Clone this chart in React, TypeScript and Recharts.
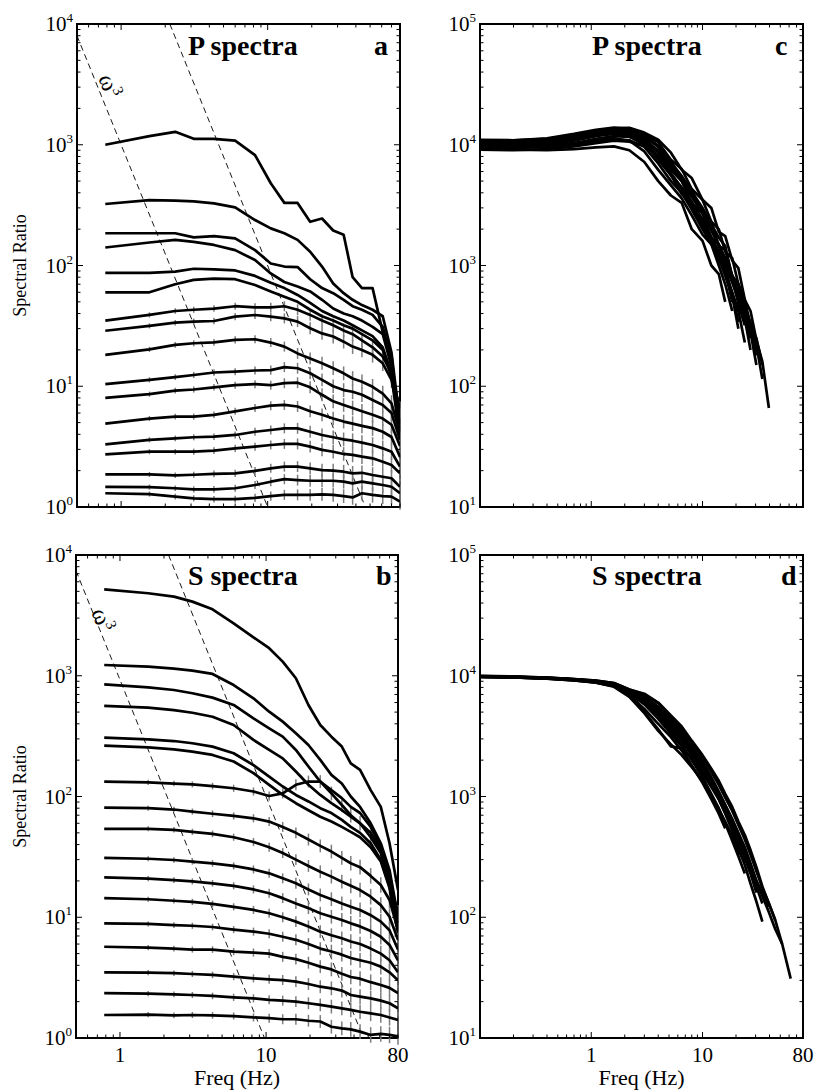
import React from 'react';
import { LineChart, Line, XAxis, YAxis, ErrorBar, ReferenceLine, ReferenceArea } from 'recharts';

const FONT = "'Liberation Serif', 'Times New Roman', Times, serif";

// sample frequencies (Hz) of the spectral ratios in panels a and b
const freqAB = [0.78, 1.56, 2.34, 3.13, 4.3, 6.0, 8.2, 10.5, 13, 16, 19.5, 23.5, 28, 33, 38, 44, 52, 61, 70, 80];

// panel a: P spectral ratios, top curve first
const pRatios = [
  [1000, 1180, 1280, 1120, 1120, 1080, 820, 480, 330, 330, 230, 245, 195, 180, 80, 65, 65, 28, 18, 4],
  [323, 348, 344, 340, 327, 303, 238, 203, 185, 163, 130, 98, 71, 59, 52, 47, 43, 38, 19, 5],
  [185, 185, 185, 171, 175, 168, 134, 104, 98, 97, 77, 65, 59, 52, 46, 43, 39, 31, 16.5, 4.5],
  [141, 155, 163, 157, 148, 134, 111, 86, 73, 67, 61, 52, 44, 40, 38, 35, 31, 27, 14.5, 4.2],
  [87, 87, 89, 94, 93, 91, 82, 72, 65, 57, 49, 42, 38, 35, 32, 29, 26, 21, 12.8, 4],
  [60, 60, 70, 76, 78, 77, 69, 61, 55, 50, 43, 38, 35, 32, 30, 27, 24, 20, 12, 3.8],
  [35, 39, 42, 43, 44, 46, 45, 45, 46, 43, 39, 35, 32, 29, 27, 24, 21, 17.6, 12.8, 6.4],
  [28.8, 31.6, 33.6, 34.3, 34.7, 37.7, 38.9, 37.7, 36.5, 34.3, 30.2, 27.4, 25.8, 23.4, 21.3, 20, 18.2, 15.5, 11.3, 5.6],
  [18.2, 20.2, 22, 22.7, 23.1, 24.2, 24.5, 23, 21.3, 18.7, 17, 15.5, 14.1, 12.8, 11.6, 10.9, 9.9, 8.7, 7.2, 4.1],
  [10.4, 11.3, 11.9, 12.4, 13, 13.2, 13.5, 13.6, 14.4, 14.1, 12.8, 11.3, 10, 9.3, 9, 8.5, 7.7, 7, 6, 3.6],
  [8, 8.6, 9.2, 9.4, 9.8, 10.2, 10.4, 10.2, 10.6, 10.7, 9.8, 8.5, 7.5, 7, 6.6, 6.2, 5.8, 5.4, 4.8, 3.2],
  [4.9, 5.4, 5.6, 5.6, 5.8, 6.2, 6.6, 6.9, 7, 6.8, 6.2, 5.8, 5.4, 5.1, 4.9, 4.7, 4.5, 4.2, 3.8, 2.6],
  [3.3, 3.6, 3.7, 3.78, 3.82, 3.95, 4.2, 4.34, 4.48, 4.48, 4.2, 3.95, 3.78, 3.63, 3.54, 3.41, 3.26, 3.06, 2.87, 2.16],
  [2.73, 2.87, 2.87, 2.87, 2.93, 3.06, 3.16, 3.26, 3.33, 3.33, 3.16, 2.97, 2.87, 2.75, 2.7, 2.61, 2.53, 2.37, 2.23, 1.9],
  [1.86, 1.86, 1.83, 1.85, 1.88, 1.9, 1.99, 2.09, 2.16, 2.16, 2.09, 2.02, 2, 1.96, 1.9, 1.92, 1.84, 1.78, 1.73, 1.47],
  [1.47, 1.46, 1.43, 1.4, 1.4, 1.43, 1.52, 1.62, 1.7, 1.67, 1.65, 1.65, 1.65, 1.62, 1.57, 1.62, 1.57, 1.52, 1.47, 1.3],
  [1.3, 1.28, 1.22, 1.18, 1.16, 1.16, 1.19, 1.23, 1.26, 1.26, 1.26, 1.27, 1.26, 1.23, 1.2, 1.3, 1.26, 1.23, 1.22, 1.11],
];

// panel b: S spectral ratios, top curve first
const sRatios = [
  [5200, 4820, 4520, 4110, 3550, 2720, 2080, 1690, 1310, 953, 573, 391, 313, 259, 188, 166, 113, 82, 41, 16.8],
  [1228, 1189, 1145, 1102, 1035, 838, 650, 504, 417, 334, 267, 201, 151, 128, 100, 82, 60, 41, 24.6, 10],
  [849, 802, 762, 716, 659, 573, 444, 367, 313, 243, 177, 133, 113, 97, 82, 73, 56, 38, 23, 9.5],
  [562, 545, 520, 494, 458, 391, 294, 243, 207, 161, 125, 103, 88, 77, 68, 60, 50, 36, 20, 8.4],
  [307, 297, 288, 276, 259, 228, 182, 146, 121, 103, 91, 80, 73, 64, 56, 50, 41, 30, 18, 7.9],
  [264, 255, 246, 235, 221, 195, 156, 125, 103, 88, 77, 68, 62, 56, 51, 46, 38, 29, 17.4, 7.4],
  [133, 131, 128, 126, 122, 117, 110, 101, 106, 125, 133, 133, 106, 85, 70, 60, 46, 34, 20, 10.8],
  [81, 80, 78, 75, 72, 69, 66, 62, 56, 50, 44, 39, 35, 31, 28, 26, 22, 18.5, 13.9, 7.8],
  [54, 54, 53, 51, 49, 46, 42, 38, 34, 30, 26.6, 23.8, 21.7, 19.7, 18.2, 16.8, 14.8, 12.6, 10.1, 6.5],
  [31, 30.5, 29.8, 28.9, 27.9, 26.6, 24.9, 23.1, 21, 19.1, 17, 15.3, 14.1, 13, 12.2, 11.5, 10.4, 9.2, 7.8, 5.4],
  [21.4, 20.9, 20.3, 19.8, 19.1, 18.2, 17, 15.8, 14.4, 13, 11.9, 10.8, 10.1, 9.5, 8.9, 8.4, 7.7, 6.9, 5.9, 4.4],
  [14.4, 14.1, 13.7, 13.4, 12.9, 12.2, 11.5, 10.8, 10, 9.2, 8.4, 7.6, 7.1, 6.7, 6.3, 6, 5.5, 5, 4.4, 3.5],
  [8.9, 8.8, 8.6, 8.5, 8.3, 7.9, 7.6, 7.3, 6.9, 6.5, 6, 5.5, 5.2, 4.9, 4.6, 4.4, 4.2, 3.9, 3.5, 3],
  [5.7, 5.6, 5.5, 5.4, 5.4, 5.2, 5.1, 5, 4.7, 4.5, 4.2, 3.9, 3.7, 3.4, 3.2, 3.1, 2.9, 2.75, 2.6, 2.35],
  [3.5, 3.48, 3.44, 3.39, 3.33, 3.22, 3.12, 3.06, 3.02, 2.93, 2.8, 2.66, 2.58, 2.47, 2.27, 2.2, 2.13, 2.04, 1.94, 1.76],
  [2.35, 2.33, 2.3, 2.27, 2.23, 2.17, 2.13, 2.07, 2.04, 2, 1.94, 1.88, 1.82, 1.76, 1.71, 1.65, 1.6, 1.55, 1.48, 1.41],
  [1.55, 1.56, 1.54, 1.55, 1.54, 1.52, 1.48, 1.46, 1.43, 1.43, 1.39, 1.37, 1.24, 1.2, 1.18, 1.13, 1.06, 1.08, 1.06, 1.03],
];

// multiplicative uncertainty of the ratios at each frequency (grey bars)
const errAB = [1, 1.05, 1.055, 1.06, 1.065, 1.07, 1.08, 1.09, 1.1, 1.11, 1.12, 1.13, 1.14, 1.14, 1.15, 1.15, 1.16, 1.16, 1.17, 1.17];
// first curve (from the top) that carries error bars
const barsFromA = 6;
const barsFromB = 6;

// omega^-3 guide lines, end points
const guidesA = [
  [{ x: 0.5, y: 8000 }, { x: 10, y: 1 }],
  [{ x: 2.15, y: 10000 }, { x: 46.4, y: 1 }],
];
const guidesB = [
  [{ x: 0.5, y: 7400 }, { x: 9.75, y: 1 }],
  [{ x: 2.15, y: 10000 }, { x: 46.4, y: 1 }],
];

// sample frequencies (Hz) of the corrected spectra in panels c and d
const freqCD = [0.1, 0.2, 0.4, 0.7, 1.1, 1.6, 2.2, 3.0, 4.0, 5.2, 6.5, 8.0, 10, 12, 14, 16, 18.5, 21, 24, 27, 30.5, 34.5, 39.5, 45, 52, 62];

// panel c: corrected P spectra (each stops at its last usable frequency)
const pCorrected = [
  [9300, 9100, 9000, 9200, 9500, 9700, 9000, 7200, 5000, 3800, 3300, 2000, 1600, 1000, 850, 500],
  [9900, 9800, 9900, 10300, 10900, 11300, 10800, 8800, 6200, 4600, 3600, 2600, 1800, 1500, 1000, 700, 420],
  [10700, 10600, 10900, 11600, 12400, 12800, 12200, 10500, 7500, 5600, 3900, 3400, 2100, 1700, 1150, 950, 580, 340],
  [9600, 9500, 9600, 10000, 10700, 11100, 10900, 9600, 7000, 5000, 4000, 2900, 2000, 1500, 1150, 850, 600, 420, 230],
  [10300, 10200, 10600, 11500, 12500, 13200, 13000, 11500, 8600, 6200, 5000, 3300, 2700, 1700, 1500, 950, 800, 480, 320],
  [9100, 9000, 9200, 9700, 10300, 10800, 10600, 9800, 8000, 5800, 4400, 3300, 2400, 1700, 1300, 1000, 720, 520, 380, 250],
  [10900, 10900, 11300, 12300, 13300, 13900, 13700, 12000, 9800, 7300, 5100, 4200, 2700, 2300, 1450, 1350, 820, 700, 410, 340, 180],
  [9800, 9700, 10000, 10800, 11800, 12500, 12500, 11700, 9600, 7200, 5500, 4100, 3000, 2200, 1700, 1450, 800, 700, 480, 330, 220, 115],
  [10200, 10100, 10500, 11300, 12200, 13000, 13200, 12200, 10500, 7500, 6300, 4300, 3500, 2300, 2000, 1300, 1150, 700, 520, 310, 250, 150],
  [10500, 10500, 10900, 11800, 12800, 13600, 13800, 12600, 11000, 8600, 6200, 5300, 3500, 3000, 1900, 1750, 1100, 950, 520, 420, 240, 160, 66],
  [10000, 9900, 10200, 11000, 11900, 12400, 12000, 10800, 8800, 6500, 5000, 3700, 2700, 1950, 1450, 1100, 780, 560, 360, 200],
  [10400, 10300, 10600, 11300, 12000, 12300, 11700, 10000, 7800, 5600, 4300, 3100, 2200, 1600, 1150, 820, 560, 300],
  [9500, 9400, 9600, 10300, 11200, 11800, 11600, 10900, 9000, 6800, 5200, 3900, 2800, 2000, 1500, 1150, 830, 600, 420, 280, 150],
  [11000, 10900, 11200, 12000, 12900, 13300, 12700, 11000, 8000, 5700, 4400, 3300, 2400, 1700, 1250, 900, 500],
];

// panel d: corrected S spectra
const sCorrected = [
  [9800, 9700, 9500, 9200, 8800, 8200, 6900, 5300, 4000, 3100, 2400, 1800, 1300, 950, 720, 545],
  [9900, 9750, 9550, 9300, 9000, 8500, 7300, 6000, 4700, 3500, 2700, 2000, 1450, 1050, 800, 600, 430, 320, 230],
  [9850, 9750, 9550, 9300, 9000, 8500, 7400, 6200, 4900, 3800, 3000, 2300, 1700, 1250, 950, 720, 520, 380, 270, 190, 135, 92],
  [9900, 9800, 9600, 9350, 9050, 8600, 7600, 6700, 5500, 4300, 3400, 2600, 1950, 1450, 1100, 850, 640, 480, 360, 270, 200, 160, 122],
  [10000, 9850, 9650, 9400, 9100, 8700, 7700, 7100, 6000, 4700, 3800, 2900, 2200, 1700, 1350, 1050, 820, 620, 480, 360, 260, 180, 130, 95, 60, 31],
  [9900, 9800, 9600, 9350, 9050, 8600, 7550, 6800, 5500, 4200, 3300, 2500, 1850, 1400, 1080, 850, 650, 500, 380, 280, 200, 150, 110, 80, 60],
  [9800, 9700, 9450, 9150, 8800, 8200, 6800, 5000, 3600, 2600, 2500, 1800, 1350, 1000, 780, 600, 450, 330],
  [9850, 9750, 9550, 9300, 9000, 8500, 7300, 6300, 4900, 3700, 2900, 2200, 1650, 1250, 960, 740, 560, 420, 310, 230, 160],
  [9900, 9800, 9550, 9300, 9000, 8500, 7450, 6500, 5200, 4000, 3100, 2350, 1750, 1300, 1000, 780, 590, 450, 330, 230],
  [9950, 9850, 9650, 9400, 9100, 8700, 7700, 7000, 5900, 4500, 3600, 2800, 2100, 1600, 1250, 980, 760, 580, 440, 330, 240, 175, 130, 95],
  [9850, 9700, 9500, 9250, 8900, 8300, 7100, 5800, 4400, 3300, 2600, 2050, 1550, 1200, 950, 740, 570, 440, 330, 240, 180, 130],
  [9800, 9700, 9450, 9150, 8750, 8100, 6700, 4900, 3500, 2700, 2200, 1750, 1350, 1000, 780, 620, 470, 360, 280],
];

// axis tick labels
const xTickLabels = [1, 10, 80];

const logTicks = (from: number, to: number) => {
  const out: number[] = [];
  for (let e = Math.floor(Math.log10(from)); e <= Math.ceil(Math.log10(to)); e++) {
    for (let m = 1; m < 10; m++) {
      const v = +(m * Math.pow(10, e)).toPrecision(6);
      if (v >= from * 0.999 && v <= to * 1.001) out.push(v);
    }
  }
  return out;
};
const isMajor = (v: number) => Math.abs(Math.log10(v) - Math.round(Math.log10(v))) < 1e-6;

function buildRows(freq: number[], curves: number[][], barsFrom: number | null) {
  return freq.map((f, i) => {
    const row: Record<string, any> = { f };
    curves.forEach((c, j) => {
      const v = c[i];
      row[`c${j}`] = v === undefined ? null : v;
      if (barsFrom !== null && j >= barsFrom && v !== undefined) {
        const k = errAB[i];
        row[`e${j}`] = [v - v / k, v * k - v];
      }
    });
    return row;
  });
}

const rowsA = buildRows(freqAB, pRatios, barsFromA);
const rowsB = buildRows(freqAB, sRatios, barsFromB);
const rowsC = buildRows(freqCD, pCorrected, null);
const rowsD = buildRows(freqCD, sCorrected, null);

const YTick = (props: any) => {
  const { x, y, payload, plotW } = props;
  const v = payload.value;
  const major = isMajor(v);
  const len = major ? 6 : 3.5;
  return (
    <g>
      <line x1={x} x2={x + len} y1={y} y2={y} stroke="#000" strokeWidth={1} />
      <line x1={x + plotW} x2={x + plotW - len} y1={y} y2={y} stroke="#000" strokeWidth={1} />
      {major && (
        <text x={x - 4} y={y + 7} textAnchor="end" fontSize={21} fontFamily={FONT} fill="#000">
          10<tspan dy={-9} fontSize={13}>{Math.round(Math.log10(v))}</tspan>
        </text>
      )}
    </g>
  );
};

const XTick = (props: any) => {
  const { x, y, payload, plotH, showLabel } = props;
  const v = payload.value;
  const major = isMajor(v);
  const len = major ? 6 : 3.5;
  const label = showLabel && xTickLabels.some((t) => Math.abs(t - v) < 1e-6);
  return (
    <g>
      <line x1={x} x2={x} y1={y} y2={y - len} stroke="#000" strokeWidth={1} />
      <line x1={x} x2={x} y1={y - plotH} y2={y - plotH + len} stroke="#000" strokeWidth={1} />
      {label && (
        <text x={x} y={y + 24} textAnchor="middle" fontSize={21} fontFamily={FONT} fill="#000">
          {String(v)}
        </text>
      )}
    </g>
  );
};

type PanelProps = {
  left: number;
  top: number;
  width: number;
  height: number;
  axisW: number;
  plotW: number;
  marginTop: number;
  xAxisH: number;
  rows: any[];
  nCurves: number;
  barsFrom: number | null;
  xDomain: [number, number];
  yDomain: [number, number];
  guides: { x: number; y: number }[][];
  showX: boolean;
};

function Panel(p: PanelProps) {
  const plotH = p.height - p.marginTop - p.xAxisH;
  const xTicks = logTicks(p.xDomain[0], p.xDomain[1]);
  const yTicks = logTicks(p.yDomain[0], p.yDomain[1]);
  const ids = Array.from({ length: p.nCurves }, (_, j) => j);
  return (
    <div style={{ position: 'absolute', left: p.left, top: p.top }}>
      <LineChart
        width={p.width}
        height={p.height}
        data={p.rows}
        margin={{ top: p.marginTop, right: p.width - p.axisW - p.plotW, bottom: 0, left: 0 }}
      >
        <XAxis
          dataKey="f"
          type="number"
          scale="log"
          domain={p.xDomain}
          allowDataOverflow
          ticks={xTicks}
          interval={0}
          height={p.xAxisH}
          tickSize={0}
          tickMargin={0}
          axisLine={false}
          tickLine={false}
          tick={(t: any) => <XTick {...t} plotH={plotH} showLabel={p.showX} />}
        />
        <YAxis
          type="number"
          scale="log"
          domain={p.yDomain}
          allowDataOverflow
          ticks={yTicks}
          interval={0}
          width={p.axisW}
          tickSize={0}
          tickMargin={0}
          axisLine={false}
          tickLine={false}
          tick={(t: any) => <YTick {...t} plotW={p.plotW} />}
        />
        {p.guides.map((g, i) => (
          <ReferenceLine key={`g${i}`} segment={g} stroke="#000" strokeWidth={0.9} strokeDasharray="6 4" />
        ))}
        {p.barsFrom !== null &&
          ids
            .filter((j) => j >= (p.barsFrom as number))
            .map((j) => (
              <Line
                key={`e${j}`}
                dataKey={`c${j}`}
                stroke="none"
                dot={false}
                activeDot={false}
                isAnimationActive={false}
              >
                <ErrorBar dataKey={`e${j}`} width={0} stroke="#7d7d7d" strokeWidth={1.5} direction="y" isAnimationActive={false} />
              </Line>
            ))}
        {ids.map((j) => (
          <Line
            key={`c${j}`}
            dataKey={`c${j}`}
            type="linear"
            stroke="#000"
            strokeWidth={2.7}
            strokeLinejoin="round"
            dot={false}
            activeDot={false}
            connectNulls={false}
            isAnimationActive={false}
          />
        ))}
        <ReferenceArea
          x1={p.xDomain[0]}
          x2={p.xDomain[1]}
          y1={p.yDomain[0]}
          y2={p.yDomain[1]}
          fill="none"
          stroke="#000"
          strokeWidth={2}
          ifOverflow="visible"
        />
      </LineChart>
    </div>
  );
}

export default function App() {
  const titleStyle = { fontFamily: FONT, fontSize: 28, fontWeight: 700 as const, fill: '#000' };
  return (
    <div style={{ position: 'absolute', left: 0, top: 0, width: 815, height: 1092, background: '#fff', overflow: 'hidden' }}>
      <Panel left={0} top={0} width={410} height={520} axisW={77} plotW={323} marginTop={24} xAxisH={13}
        rows={rowsA} nCurves={pRatios.length} barsFrom={barsFromA} xDomain={[0.5, 80]} yDomain={[1, 10000]} guides={guidesA} showX={false} />
      <Panel left={0} top={531} width={410} height={561} axisW={76} plotW={322} marginTop={24} xAxisH={54}
        rows={rowsB} nCurves={sRatios.length} barsFrom={barsFromB} xDomain={[0.5, 80]} yDomain={[1, 10000]} guides={guidesB} showX={true} />
      <Panel left={400} top={0} width={415} height={520} axisW={80} plotW={323} marginTop={24} xAxisH={13}
        rows={rowsC} nCurves={pCorrected.length} barsFrom={null} xDomain={[0.1, 80]} yDomain={[10, 100000]} guides={[]} showX={false} />
      <Panel left={400} top={531} width={415} height={561} axisW={80} plotW={323} marginTop={24} xAxisH={54}
        rows={rowsD} nCurves={sCorrected.length} barsFrom={null} xDomain={[0.1, 80]} yDomain={[10, 100000]} guides={[]} showX={true} />
      <svg width={815} height={1092} style={{ position: 'absolute', left: 0, top: 0, pointerEvents: 'none' }}>
        <text x={188} y={55} {...titleStyle}>P spectra</text>
        <text x={374} y={55} {...titleStyle}>a</text>
        <text x={188} y={585} {...titleStyle}>S spectra</text>
        <text x={376} y={585} {...titleStyle}>b</text>
        <text x={592} y={55} {...titleStyle}>P spectra</text>
        <text x={775} y={55} {...titleStyle}>c</text>
        <text x={592} y={585} {...titleStyle}>S spectra</text>
        <text x={781} y={585} {...titleStyle}>d</text>
        <text transform="translate(26,265.5) rotate(-90)" textAnchor="middle" fontFamily={FONT} fontSize={18} fill="#000">Spectral Ratio</text>
        <text transform="translate(26,796.5) rotate(-90)" textAnchor="middle" fontFamily={FONT} fontSize={18} fill="#000">Spectral Ratio</text>
        <text x={237} y={1085} textAnchor="middle" fontFamily={FONT} fontSize={22} fill="#000">Freq (Hz)</text>
        <text x={641.5} y={1085} textAnchor="middle" fontFamily={FONT} fontSize={22} fill="#000">Freq (Hz)</text>
        <text transform="translate(98,78) rotate(68)" fontFamily={FONT} fontSize={24} fill="#000">
          ω<tspan dy={-9} fontSize={15}>3</tspan>
        </text>
        <text transform="translate(91,612) rotate(68)" fontFamily={FONT} fontSize={24} fill="#000">
          ω<tspan dy={-9} fontSize={15}>3</tspan>
        </text>
      </svg>
    </div>
  );
}
